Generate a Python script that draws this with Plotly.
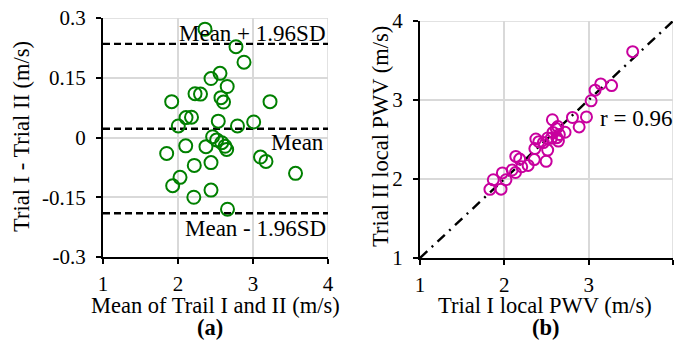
import plotly.graph_objects as go

# Panel (a): Bland-Altman data
mean_ab = [2.36, 2.773, 2.88, 2.56, 2.44, 2.656, 2.227, 2.30, 1.916, 2.573, 2.607, 3.227,
           2.107, 2.18, 2.004, 2.537, 2.793, 3.009, 2.462, 2.516, 2.373, 2.583, 2.627, 2.649,
           2.103, 1.849, 2.217, 2.44, 3.10, 3.173, 3.567, 2.027, 1.929, 2.44, 2.211, 2.66]
diff_ab = [0.272, 0.228, 0.189, 0.161, 0.148, 0.128, 0.110, 0.109, 0.090, 0.100, 0.089, 0.090,
           0.050, 0.051, 0.029, 0.041, 0.029, 0.039, 0.002, -0.006, -0.023, -0.013, -0.022, -0.030,
           -0.021, -0.040, -0.070, -0.063, -0.049, -0.060, -0.090, -0.100, -0.121, -0.132, -0.150, -0.180]
bias = 0.022
upper_loa = 0.235
lower_loa = -0.19

# Panel (b): correlation data
trial1 = [2.496, 2.887, 2.974, 2.641, 2.514, 2.720, 2.282, 2.355, 1.961, 2.623, 2.652, 3.272,
          2.132, 2.206, 2.019, 2.558, 2.808, 3.029, 2.463, 2.513, 2.362, 2.577, 2.616, 2.634,
          2.093, 1.829, 2.182, 2.409, 3.076, 3.143, 3.522, 1.977, 1.869, 2.374, 2.136, 2.570]
trial2 = [2.224, 2.659, 2.786, 2.480, 2.366, 2.592, 2.172, 2.246, 1.871, 2.523, 2.563, 3.182,
          2.082, 2.155, 1.990, 2.517, 2.779, 2.990, 2.461, 2.519, 2.385, 2.590, 2.638, 2.664,
          2.114, 1.869, 2.252, 2.472, 3.125, 3.203, 3.612, 2.077, 1.990, 2.506, 2.286, 2.750]
identity = [1, 4]
r_value = 0.96

FONT = "Times New Roman, Liberation Serif, serif"
W, H = 675, 349

def py(p):
    return 1 - p / H

def px(p):
    return p / W

fig = go.Figure()

for yv in (upper_loa, bias, lower_loa):
    fig.add_trace(go.Scatter(x=[1, 4], y=[yv, yv], mode="lines", xaxis="x", yaxis="y",
                             line=dict(color="black", width=2.4, dash="7px,4px"),
                             hoverinfo="skip", showlegend=False))

fig.add_trace(go.Scatter(x=mean_ab, y=diff_ab, mode="markers", xaxis="x", yaxis="y",
                         marker=dict(symbol="circle-open", size=13, color="#008000",
                                     line=dict(width=2, color="#008000")),
                         showlegend=False, cliponaxis=False))

fig.add_trace(go.Scatter(x=identity, y=identity, mode="lines", xaxis="x2", yaxis="y2",
                         line=dict(color="black", width=2.4, dash="10px,6px,2px,6px"),
                         hoverinfo="skip", showlegend=False))

fig.add_trace(go.Scatter(x=trial1, y=trial2, mode="markers", xaxis="x2", yaxis="y2",
                         marker=dict(symbol="circle-open", size=11, color="#C8009E",
                                     line=dict(width=2, color="#C8009E")),
                         showlegend=False, cliponaxis=False))

axis_common = dict(showline=True, linecolor="black", linewidth=2, ticks="outside",
                   ticklen=5, tickwidth=2, tickcolor="black", showgrid=True,
                   gridcolor="#D9D9D9", gridwidth=1.5, zeroline=False, automargin=False,
                   tickfont=dict(family=FONT, size=21, color="black"))

fig.update_layout(
    width=W, height=H, margin=dict(l=0, r=0, t=0, b=0, autoexpand=False),
    paper_bgcolor="white", plot_bgcolor="white",
    xaxis=dict(domain=[px(103), px(328)], range=[1, 4], tickvals=[1, 2, 3, 4],
               anchor="y", ticklabelstandoff=2, **axis_common),
    yaxis=dict(domain=[py(257), py(18)], range=[-0.3, 0.3],
               tickvals=[-0.3, -0.15, 0, 0.15, 0.3],
               ticktext=["-0.3", "-0.15", "0", "0.15", "0.3"],
               anchor="x", ticklabelstandoff=6, **axis_common),
    xaxis2=dict(domain=[px(420), px(673)], range=[1, 4], tickvals=[1, 2, 3, 4],
                anchor="y2", ticklabelstandoff=2, **axis_common),
    yaxis2=dict(domain=[py(258), py(21)], range=[1, 4], tickvals=[1, 2, 3, 4],
                anchor="x2", ticklabelstandoff=6, **axis_common),
)

# light gray frame edges at the top/right of each plot (grid at range edges)
for xr, yr, x0, y0, x1, y1 in [("x", "y", 1, 0.3, 4, 0.3), ("x", "y", 4, -0.3, 4, 0.3),
                               ("x2", "y2", 1, 4, 4, 4), ("x2", "y2", 4, 1, 4, 4)]:
    fig.add_shape(type="line", xref=xr, yref=yr, x0=x0, y0=y0, x1=x1, y1=y1,
                  line=dict(color="#D9D9D9", width=1.5), layer="below")

def txt(text, x, y, size=23, xanchor="center", angle=0, bold=False):
    fig.add_annotation(text=("<b>%s</b>" % text) if bold else text,
                       x=px(x), y=py(y), xref="paper", yref="paper",
                       xanchor=xanchor, yanchor="middle", showarrow=False,
                       textangle=angle, font=dict(family=FONT, size=size, color="black"))

txt("Mean + 1.96SD", 328, 33, xanchor="right")
txt("Mean", 326, 142, xanchor="right")
txt("Mean - 1.96SD", 328, 228, xanchor="right")
txt("r = %.2f" % r_value, 598, 118, xanchor="left")

txt("Mean of Trail I and II (m/s)", 215, 305, size=22.5)
txt("Trial I local PWV (m/s)", 545, 305, size=22.5)
txt("(a)", 210, 327, size=22.5, bold=True)
txt("(b)", 546, 327, size=22.5, bold=True)
txt("Trial I - Trial II (m/s)", 21, 137, size=22.5, angle=-90)
txt("Trial II local PWV (m/s)", 380, 137, size=22.5, angle=-90)

fig.write_html("out.html")
